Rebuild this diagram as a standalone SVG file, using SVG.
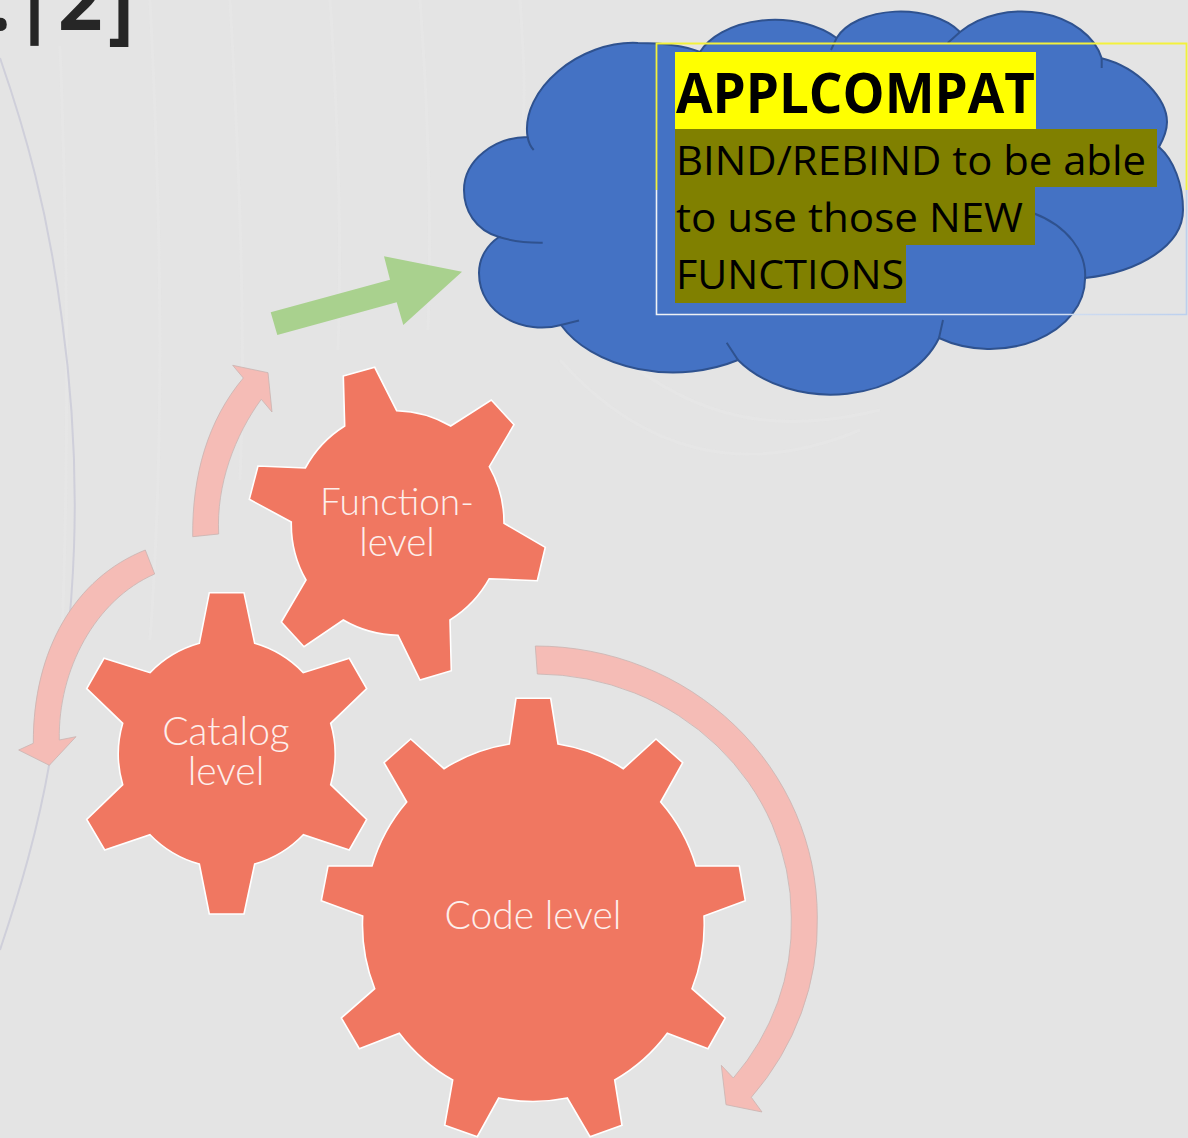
<svg xmlns="http://www.w3.org/2000/svg" width="1188" height="1138" viewBox="0 0 1188 1138">
<style>
.gear{fill:#F07761;stroke:#fff;stroke-width:1.6;stroke-linejoin:miter}
.flow{fill:#F5BCB6;stroke:#c9b4b1;stroke-width:.8}
.lab{font-family:"Lato","Liberation Sans",sans-serif;font-weight:300;font-size:39px;fill:#FDEFEC;text-anchor:middle}
.cl{fill:#4472C4;stroke:#2F528F;stroke-width:2}
.tail{fill:none;stroke:#2F528F;stroke-width:2}
.bx{font-family:"Open Sans","Noto Sans",sans-serif;fill:#000}
.tex{fill:none;stroke:#e8e8e8;stroke-width:3;opacity:.55}
</style>
<defs>
<linearGradient id="edgeLow" gradientUnits="userSpaceOnUse" x1="656" y1="0" x2="1187" y2="0">
<stop offset="0" stop-color="#f0f2f5"/><stop offset=".6" stop-color="#dfe6f3"/><stop offset="1" stop-color="#bcd0ee"/>
</linearGradient>
</defs>
<rect id="background" width="1188" height="1138" fill="#E4E4E4"/>
<g id="texture">
<path class="tex" d="M60 46C66 200 70 420 62 640M150 0C160 200 166 420 150 640M230 0C240 180 246 340 240 480M330 0C338 120 342 240 338 350M420 0C428 110 432 220 428 330M520 0C524 60 526 100 522 130M600 340C680 410 760 440 880 410M560 360C640 450 740 480 860 430"/>
<path fill="none" stroke="#cfcfda" stroke-width="2" d="M0 58C25 130 48 210 62 320C84 480 76 620 50 760C38 830 20 890 0 950"/>
</g>
<g id="title"><text font-family="'Open Sans','Noto Sans',sans-serif" font-weight="700" font-size="78" fill="#262626"><tspan x="-11" y="30">.</tspan><tspan x="13" y="28">|</tspan><tspan x="58" y="30">2</tspan><tspan x="108" y="34">]</tspan></text></g>

<g id="connectors">
<path class="flow" d="M535.3 646A282 271 0 0 1 817.3 917A282 271 0 0 1 751.3 1097.3L762 1112L726 1104.7L721.3 1065.3L733.3 1078A256 243 0 0 0 791.3 917A256 243 0 0 0 537.3 674Z"/>
<path class="flow" d="M192.7 536.7C192 475 208 420 243.3 378L232.7 365.3L268 372.7L272 412L261.3 399.3C235 435 216 485 218.7 534Z"/>
<path class="flow" d="M145.3 550C75 578 33 650 33.3 743.3L18.7 750L49.3 765.3L76 736.7L59.3 740C58 670 95 600 154.7 574Z"/>
<path fill="#A9D18E" d="M277.3 335L270.7 312.3L390 279.7L384 256.3L462 271.7L403.3 325L396.7 302.3Z"/>
</g>

<g id="node-cloud">
<path class="cl" d="M499 237C475 230 464 210 464 190C464 160 495 137 527.6 137C520 90 580 40 638 43C660 43 685 46 700 52A80 50 0 0 1 836.6 38A68 40 0 0 1 960 32A82 60 0 0 1 1101.7 58.3C1140 68 1167 100 1167 122C1167 130 1164 138 1159 147C1174 160 1183 185 1183 210C1183 245 1140 272 1085 278A95 70 0 0 1 939 338A115 85 0 0 1 738 360A125 85 0 0 1 561 325C525 335 479 315 479 273C479 258 487 245 499 237Z"/>
<path class="tail" d="M499 237Q518 243 542.7 242.7M527.6 137Q529 145 533.7 150M836.6 38L831 50M960 32L947.7 43M1101.7 58.3V68M1033 213A95 70 0 0 1 1085 280M939 338L943 320M738 360L726.7 342.7M561 325L579 320.5"/>
</g>
<g id="node-applcompat">
<path d="M656.5 190V314.5H1186.5V190" fill="none" stroke="url(#edgeLow)" stroke-width="1.6"/>
<path d="M656.5 190V43.5H1186.5V190" fill="none" stroke="#f3f13c" stroke-width="1.8"/>
<rect x="675" y="52" width="361" height="77" fill="#FFFF00"/>
<path fill="#808000" d="M675 129H1157V187H1035V245H906V303H675Z"/>
<text class="bx" x="676" y="113" font-size="56" font-weight="700" textLength="359" lengthAdjust="spacingAndGlyphs">APPLCOMPAT</text>
<text class="bx" x="676" y="175" font-size="40" textLength="470" lengthAdjust="spacingAndGlyphs">BIND/REBIND to be able</text>
<text class="bx" x="676" y="232" font-size="40" textLength="347" lengthAdjust="spacingAndGlyphs">to use those NEW</text>
<text class="bx" x="676" y="289" font-size="40" textLength="228" lengthAdjust="spacingAndGlyphs">FUNCTIONS</text>
</g>

<g id="node-function">
<path class="gear" d="M343.3 376L374.7 367.3L396.7 410.7A113 113 0 0 1 450.7 426L491.3 400L514 424.7L489.3 466.7A113 113 0 0 1 504 523.3L545.3 547.3L537.3 580.7L489.3 578.7A113 113 0 0 1 450 620L451.3 670.7L420 680L398 635.3A113 113 0 0 1 343.3 620L304 646.7L281.3 622L306 580A113 113 0 0 1 291.3 522L249.3 499.3L258 466L305.3 468A113 113 0 0 1 344.7 426Z"/>
<text class="lab" x="397" y="515" style="font-size:37px">Function-</text>
<text class="lab" x="397" y="556" style="font-size:38.5px">level</text>
</g>
<g id="node-catalog">
<path class="gear" d="M209.3 592.7H244L254.7 643.3A109 109 0 0 1 303.3 672.7L349.3 658.3L366.7 688.7L330.7 723.3A109 109 0 0 1 330.7 784.7L366.7 819.3L349.3 850L303.3 834.7A109 109 0 0 1 254.7 864L244 914H209.3L199.3 864A109 109 0 0 1 150 834.7L104.7 850L86.7 819.3L122.7 784.7A109 109 0 0 1 122.7 723.3L86.7 688.7L104 658.3L150 672.7A109 109 0 0 1 199.3 643.3Z"/>
<text class="lab" x="226" y="745">Catalog</text>
<text class="lab" x="226" y="785">level</text>
</g>
<g id="node-code">
<path class="gear" d="M516 698.3H550.7L558 744A172 172 0 0 1 623.3 768.7L656 739L682.7 762.7L660.7 802A172 172 0 0 1 696 866H739.3L745.3 900.7L704 916A172 172 0 0 1 692 988.7L725.3 1018L708 1048.7L667.3 1033.3A172 172 0 0 1 614.7 1080L622 1125.3L590 1136.7L567.3 1098A172 172 0 0 1 498.7 1098L477.3 1136.7L444.7 1125.3L452.7 1080A172 172 0 0 1 399.3 1033.3L359.3 1048.7L341.3 1018L374.7 988.7A172 172 0 0 1 362.7 916L321.3 900.7L328 866H372A172 172 0 0 1 406.7 802L384 762.7L410.7 739L444 768.7A172 172 0 0 1 509.3 744Z"/>
<text class="lab" x="533" y="929">Code level</text>
</g>
</svg>
